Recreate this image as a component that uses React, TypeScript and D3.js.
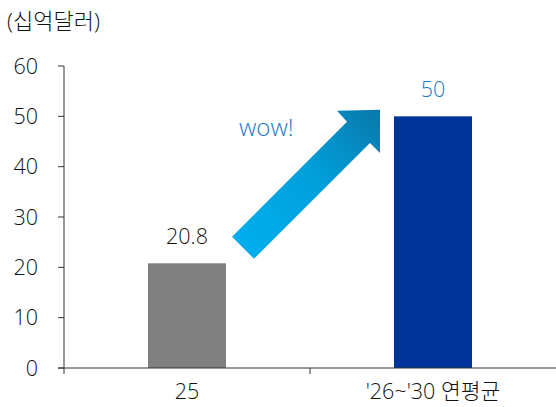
import React from "react";
import * as d3 from "d3";

const categories = ["25", "'26~'30 연평균"];
const values = [20.8, 50];
const valueLabels = ["20.8", "50"];
const yTicks = [0, 10, 20, 30, 40, 50, 60];
const unitLabel = "(십억달러)";
const noteLabel = "wow!";

const W = 556, H = 407;
const FONT = "'Open Sans', 'Noto Sans CJK KR', sans-serif";

export default function App() {
  const x = d3.scaleBand<string>().domain(categories).range([64, 556]).paddingInner(0).paddingOuter(0);
  const y = d3.scaleLinear().domain([0, 60]).range([368, 66]);
  const barW = 78;
  const colors = ["#808080", "#003399"];
  const labelColors = ["#111111", "#1a78c8"];

  const x0 = x(categories[0])! + x.bandwidth() / 2;
  const x1 = x(categories[1])! + x.bandwidth() / 2;
  const tailL = [x0 + 45, y(26.1)];
  const tailR = [x0 + 67, y(21.7)];
  const notchL = [x1 - 86, y(48.9)];
  const barbL = [x1 - 96, y(51.1)];
  const tip = [x1 - 53, y(51.3)];
  const barbR = [x1 - 53, y(42.7)];
  const notchR = [x1 - 63, y(44.7)];
  const pts = [tailL, notchL, barbL, tip, barbR, notchR, tailR];
  const path = "M" + pts.map((p) => p.join(",")).join("L") + "Z";

  return (
    <svg width={W} height={H} style={{ position: "absolute", left: 0, top: 0, fontFamily: FONT, fontWeight: 300 }}>
      <defs>
        <linearGradient id="arrowGrad" x1="0" y1="1" x2="1" y2="0">
          <stop offset="0" stopColor="#00b0f0" />
          <stop offset="0.55" stopColor="#00a0dc" />
          <stop offset="1" stopColor="#0a78aa" />
        </linearGradient>
      </defs>
      <text x={7} y={29} fontSize={22} fill="#111">{unitLabel}</text>
      {yTicks.map((t) => (
        <g key={t}>
          <line x1={58} x2={64} y1={y(t)} y2={y(t)} stroke="#333" strokeWidth={1} />
          <text x={38} y={y(t)} dy="0.36em" textAnchor="end" fontSize={21.5} fill="#111">{t}</text>
        </g>
      ))}
      <line x1={64} x2={64} y1={y(60)} y2={y(0)} stroke="#333" strokeWidth={1} />
      {categories.map((c, i) => {
        const cx = x(c)! + x.bandwidth() / 2;
        return (
          <g key={c}>
            <rect x={cx - barW / 2} y={y(values[i])} width={barW} height={y(0) - y(values[i])} fill={colors[i]} />
            <text x={cx} y={y(values[i]) - 19} textAnchor="middle" fontSize={21.5} fill={labelColors[i]}>{valueLabels[i]}</text>
            <text x={cx} y={399} textAnchor="middle" fontSize={21.5} fill="#111">{c}</text>
          </g>
        );
      })}
      <line x1={58} x2={556} y1={y(0)} y2={y(0)} stroke="#333" strokeWidth={1} />
      {[0, 1].map((i) => {
        const xx = 64 + i * x.bandwidth();
        return <line key={i} x1={xx} x2={xx} y1={y(0)} y2={y(0) + 6} stroke="#333" strokeWidth={1} />;
      })}
      <path d={path} fill="url(#arrowGrad)" />
      <text x={239} y={136} fontSize={24} fill="#1a78c8">{noteLabel}</text>
    </svg>
  );
}
